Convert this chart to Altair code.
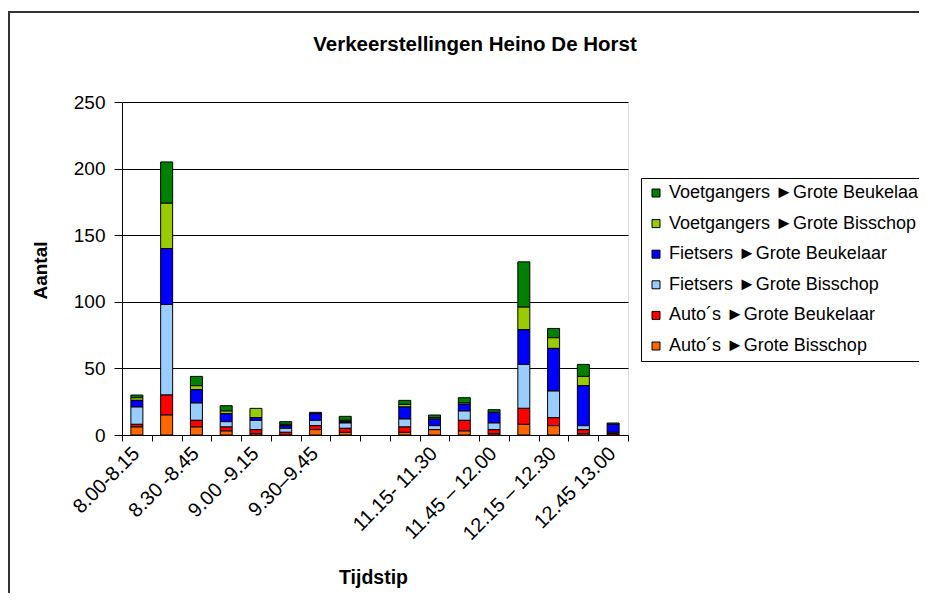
import json
import altair as alt
import pandas as pd

chart_title = "Verkeerstellingen Heino De Horst"

categories = ["8.00-8.15", "8.15-8.30", "8.30 -8.45", "8.45-9.00", "9.00 -9.15",
              "9.15-9.30", "9.30\u20139.45", "9.45-10.00", "10.00-11.00", "11.00-11.15",
              "11.15- 11.30", "11.30-11.45", "11.45 \u2013 12.00", "12.00-12.15",
              "12.15 \u2013 12.30", "12.30-12.45", "12.45 13.00"]
shown_labels = ["8.00-8.15", "8.30 -8.45", "9.00 -9.15", "9.30\u20139.45",
                "11.15- 11.30", "11.45 \u2013 12.00", "12.15 \u2013 12.30", "12.45 13.00"]

series_names = ["Voetgangers \u25baGrote Beukelaar", "Voetgangers \u25baGrote Bisschop",
                "Fietsers \u25baGrote Beukelaar", "Fietsers \u25baGrote Bisschop",
                "Auto\u00b4s \u25baGrote Beukelaar", "Auto\u00b4s \u25baGrote Bisschop"]
series_colors = ["#008000", "#99CC00", "#0000FF", "#99CCFF", "#FF0000", "#FF6600"]

voet_beukelaar = [2, 31, 7, 4, 0, 2, 1, 3, 0, 3, 2, 4, 2, 34, 7, 9, 1]
voet_bisschop = [2, 34, 3, 2, 7, 1, 0, 1, 0, 2, 1, 1, 0, 17, 8, 7, 0]
fiets_beukelaar = [5, 42, 10, 6, 2, 2, 5, 1, 0, 9, 5, 5, 8, 26, 32, 30, 6]
fiets_bisschop = [13, 68, 13, 4, 7, 3, 4, 4, 0, 6, 3, 7, 5, 33, 20, 3, 1]
auto_beukelaar = [2, 15, 5, 3, 3, 2, 3, 3, 0, 4, 0, 8, 3, 12, 6, 3, 1]
auto_bisschop = [6, 15, 6, 3, 1, 0, 4, 2, 0, 2, 4, 3, 1, 8, 7, 1, 0]

series_values = [voet_beukelaar, voet_bisschop, fiets_beukelaar,
                 fiets_bisschop, auto_beukelaar, auto_bisschop]

rows = []
for si, (name, vals) in enumerate(zip(series_names, series_values)):
    for cat, v in zip(categories, vals):
        if v > 0:
            rows.append({"Tijdstip": cat, "Serie": name, "Aantal": v,
                         "stack": len(series_names) - 1 - si})
df = pd.DataFrame(rows)

FONT = "Liberation Sans"
label_expr = "indexof(" + json.dumps(shown_labels) + ", datum.value) >= 0 ? datum.value : ''"

bars = alt.Chart(df).mark_bar(size=12, stroke="#000000", strokeWidth=1).encode(
    x=alt.X("Tijdstip:N", sort=categories,
            scale=alt.Scale(domain=categories, paddingInner=0, paddingOuter=0),
            axis=alt.Axis(title="Tijdstip", labelAngle=-45, labelExpr=label_expr,
                          labelOverlap=False, labelFontSize=20, labelFont=FONT,
                          labelColor="#000000", labelPadding=2, labelOffset=-8,
                          tickBand="extent", tickSize=6, tickColor="#000000",
                          domainColor="#000000", grid=False,
                          titleFontSize=19.5, titleFont=FONT, titleFontWeight="bold",
                          titleColor="#000000", titleX=251, titleY=142,
                          titleBaseline="middle")),
    y=alt.Y("Aantal:Q", stack="zero",
            scale=alt.Scale(domain=[0, 250], nice=False),
            axis=alt.Axis(title="Aantal", values=[0, 50, 100, 150, 200, 250],
                          labelFontSize=19, labelFont=FONT, labelColor="#000000",
                          labelPadding=9, tickSize=8, tickColor="#000000",
                          domainColor="#000000", grid=True, gridColor="#000000",
                          gridWidth=1, titleFontSize=19, titleFont=FONT,
                          titleFontWeight="bold", titleColor="#000000",
                          titleX=-82, titleY=168, titleBaseline="middle",
                          titleAlign="center")),
    color=alt.Color("Serie:N",
                    scale=alt.Scale(domain=series_names, range=series_colors),
                    legend=alt.Legend(title=None, orient="none", legendX=519,
                                      legendY=76, labelFontSize=18, labelFont=FONT,
                                      labelColor="#000000", labelLimit=400,
                                      symbolType="square", symbolSize=64,
                                      symbolStrokeColor="#000000",
                                      symbolStrokeWidth=1, rowPadding=12.6,
                                      labelOffset=4,
                                      strokeColor="#000000", fillColor="#FFFFFF",
                                      padding=6)),
    order=alt.Order("stack:Q", sort="ascending"),
)

frame = alt.Chart(pd.DataFrame({"f": [0]})).mark_rect(
    fill="#FFFFFF", fillOpacity=0, stroke="#333333", strokeWidth=2
).encode(x=alt.value(-113), x2=alt.value(900), y=alt.value(-90), y2=alt.value(600))

title = alt.Chart(pd.DataFrame({"t": [chart_title]})).mark_text(
    font=FONT, fontSize=20.5, fontWeight="bold", color="#000000",
    align="center", baseline="middle"
).encode(text="t:N", x=alt.value(353), y=alt.value(-57))

chart = alt.layer(frame, bars, title).properties(
    width=506, height=333,
    autosize=alt.AutoSizeParams(type="none"),
    padding={"left": 114, "top": 94, "right": 291, "bottom": 158},
).configure_view(fill="#C0C0C0", stroke="#808080").configure(background="#FFFFFF")

chart.save("out.html", embed_options={"renderer": "svg", "actions": False})
